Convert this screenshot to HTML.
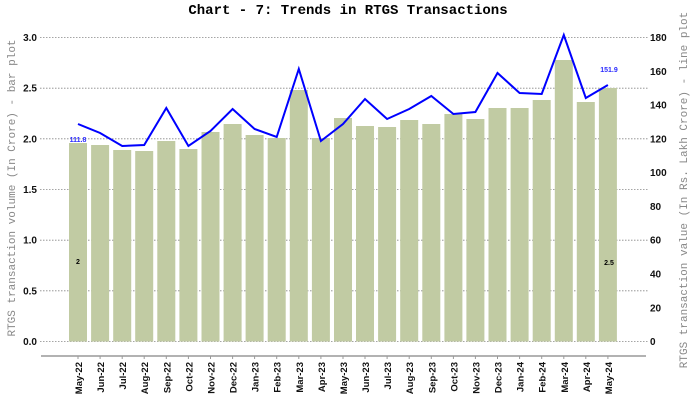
<!DOCTYPE html><html><head><style>body{margin:0;background:#fff}svg{display:block}text{font-family:"Liberation Sans",Arial,sans-serif}</style></head><body>
<svg width="696" height="405" xmlns="http://www.w3.org/2000/svg">
<text x="348" y="14" text-anchor="middle" style="font-family:'Liberation Mono',monospace;font-weight:bold;font-size:14px">Chart - 7: Trends in RTGS Transactions</text>
<g stroke="#888" stroke-width="0.8" stroke-dasharray="1.5,1.5">
<line x1="40" x2="648" y1="37.5" y2="37.5"/><line x1="40" x2="648" y1="88.2" y2="88.2"/><line x1="40" x2="648" y1="138.8" y2="138.8"/><line x1="40" x2="648" y1="189.5" y2="189.5"/><line x1="40" x2="648" y1="240.2" y2="240.2"/><line x1="40" x2="648" y1="290.8" y2="290.8"/><line x1="40" x2="648" y1="341.5" y2="341.5"/>
</g>
<g fill="#c1cba3">
<rect x="69" y="143" width="18" height="198.5"/><rect x="91.1" y="145" width="18" height="196.5"/><rect x="113.2" y="150" width="18" height="191.5"/><rect x="135.2" y="151" width="18" height="190.5"/><rect x="157.3" y="141" width="18" height="200.5"/><rect x="179.4" y="149" width="18" height="192.5"/><rect x="201.5" y="132" width="18" height="209.5"/><rect x="223.6" y="124" width="18" height="217.5"/><rect x="245.6" y="135" width="18" height="206.5"/><rect x="267.7" y="138" width="18" height="203.5"/><rect x="289.8" y="90" width="18" height="251.5"/><rect x="311.9" y="138" width="18" height="203.5"/><rect x="334" y="118" width="18" height="223.5"/><rect x="356" y="126" width="18" height="215.5"/><rect x="378.1" y="127" width="18" height="214.5"/><rect x="400.2" y="120" width="18" height="221.5"/><rect x="422.3" y="124" width="18" height="217.5"/><rect x="444.4" y="114" width="18" height="227.5"/><rect x="466.4" y="119" width="18" height="222.5"/><rect x="488.5" y="108" width="18" height="233.5"/><rect x="510.6" y="108" width="18" height="233.5"/><rect x="532.7" y="100" width="18" height="241.5"/><rect x="554.8" y="60" width="18" height="281.5"/><rect x="576.8" y="102" width="18" height="239.5"/><rect x="598.9" y="88" width="18" height="253.5"/>
</g>
<polyline fill="none" stroke="#0000ff" stroke-width="2" points="78,124 100.1,133 122.2,146 144.2,145 166.3,108 188.4,146 210.5,131 232.6,109 254.6,129 276.7,137 298.8,69 320.9,141 343,124 365,99 387.1,119 409.2,109 431.3,96 453.4,114 475.4,112 497.5,73 519.6,93 541.7,94 563.8,35 585.8,98 607.9,85"/>
<g font-size="7" font-weight="bold" fill="#2a2aff" text-anchor="middle"><text x="78" y="142">111.8</text><text x="609" y="72">151.9</text></g>
<g font-size="7" font-weight="bold" fill="#000" text-anchor="middle"><text x="78" y="264">2</text><text x="609" y="265">2.5</text></g>
<line x1="41" x2="646" y1="356" y2="356" stroke="#999" stroke-width="1.5"/>
<g stroke="#999" stroke-width="1"><line x1="78" x2="78" y1="356" y2="359"/><line x1="100.1" x2="100.1" y1="356" y2="359"/><line x1="122.2" x2="122.2" y1="356" y2="359"/><line x1="144.2" x2="144.2" y1="356" y2="359"/><line x1="166.3" x2="166.3" y1="356" y2="359"/><line x1="188.4" x2="188.4" y1="356" y2="359"/><line x1="210.5" x2="210.5" y1="356" y2="359"/><line x1="232.6" x2="232.6" y1="356" y2="359"/><line x1="254.6" x2="254.6" y1="356" y2="359"/><line x1="276.7" x2="276.7" y1="356" y2="359"/><line x1="298.8" x2="298.8" y1="356" y2="359"/><line x1="320.9" x2="320.9" y1="356" y2="359"/><line x1="343" x2="343" y1="356" y2="359"/><line x1="365" x2="365" y1="356" y2="359"/><line x1="387.1" x2="387.1" y1="356" y2="359"/><line x1="409.2" x2="409.2" y1="356" y2="359"/><line x1="431.3" x2="431.3" y1="356" y2="359"/><line x1="453.4" x2="453.4" y1="356" y2="359"/><line x1="475.4" x2="475.4" y1="356" y2="359"/><line x1="497.5" x2="497.5" y1="356" y2="359"/><line x1="519.6" x2="519.6" y1="356" y2="359"/><line x1="541.7" x2="541.7" y1="356" y2="359"/><line x1="563.8" x2="563.8" y1="356" y2="359"/><line x1="585.8" x2="585.8" y1="356" y2="359"/><line x1="607.9" x2="607.9" y1="356" y2="359"/></g>
<g font-size="9.5" font-weight="bold" fill="#111" text-anchor="end">
<text transform="translate(82,362) rotate(-90)">May-22</text><text transform="translate(104.1,362) rotate(-90)">Jun-22</text><text transform="translate(126.2,362) rotate(-90)">Jul-22</text><text transform="translate(148.2,362) rotate(-90)">Aug-22</text><text transform="translate(170.3,362) rotate(-90)">Sep-22</text><text transform="translate(192.4,362) rotate(-90)">Oct-22</text><text transform="translate(214.5,362) rotate(-90)">Nov-22</text><text transform="translate(236.6,362) rotate(-90)">Dec-22</text><text transform="translate(258.6,362) rotate(-90)">Jan-23</text><text transform="translate(280.7,362) rotate(-90)">Feb-23</text><text transform="translate(302.8,362) rotate(-90)">Mar-23</text><text transform="translate(324.9,362) rotate(-90)">Apr-23</text><text transform="translate(347,362) rotate(-90)">May-23</text><text transform="translate(369,362) rotate(-90)">Jun-23</text><text transform="translate(391.1,362) rotate(-90)">Jul-23</text><text transform="translate(413.2,362) rotate(-90)">Aug-23</text><text transform="translate(435.3,362) rotate(-90)">Sep-23</text><text transform="translate(457.4,362) rotate(-90)">Oct-23</text><text transform="translate(479.4,362) rotate(-90)">Nov-23</text><text transform="translate(501.5,362) rotate(-90)">Dec-23</text><text transform="translate(523.6,362) rotate(-90)">Jan-24</text><text transform="translate(545.7,362) rotate(-90)">Feb-24</text><text transform="translate(567.8,362) rotate(-90)">Mar-24</text><text transform="translate(589.8,362) rotate(-90)">Apr-24</text><text transform="translate(611.9,362) rotate(-90)">May-24</text>
</g>
<g font-size="10" font-weight="bold" fill="#111" text-anchor="end">
<text x="37" y="41">3.0</text><text x="37" y="91.7">2.5</text><text x="37" y="142.3">2.0</text><text x="37" y="193">1.5</text><text x="37" y="243.7">1.0</text><text x="37" y="294.3">0.5</text><text x="37" y="345">0.0</text>
</g>
<g font-size="10" font-weight="bold" fill="#111" text-anchor="start">
<text x="650" y="41">180</text><text x="650" y="74.8">160</text><text x="650" y="108.6">140</text><text x="650" y="142.4">120</text><text x="650" y="176.1">100</text><text x="650" y="209.9">80</text><text x="650" y="243.7">60</text><text x="650" y="277.5">40</text><text x="650" y="311.3">20</text><text x="650" y="345">0</text>
</g>
<text transform="translate(15,188) rotate(-90)" text-anchor="middle" style="font-family:'Liberation Mono',monospace;font-size:11px" fill="#888">RTGS transaction volume (In Crore) - bar plot</text>
<text transform="translate(687,190) rotate(-90)" text-anchor="middle" style="font-family:'Liberation Mono',monospace;font-size:11px" fill="#888">RTGS transaction value (In Rs. Lakh Crore) - line plot</text>
</svg>
</body></html>
